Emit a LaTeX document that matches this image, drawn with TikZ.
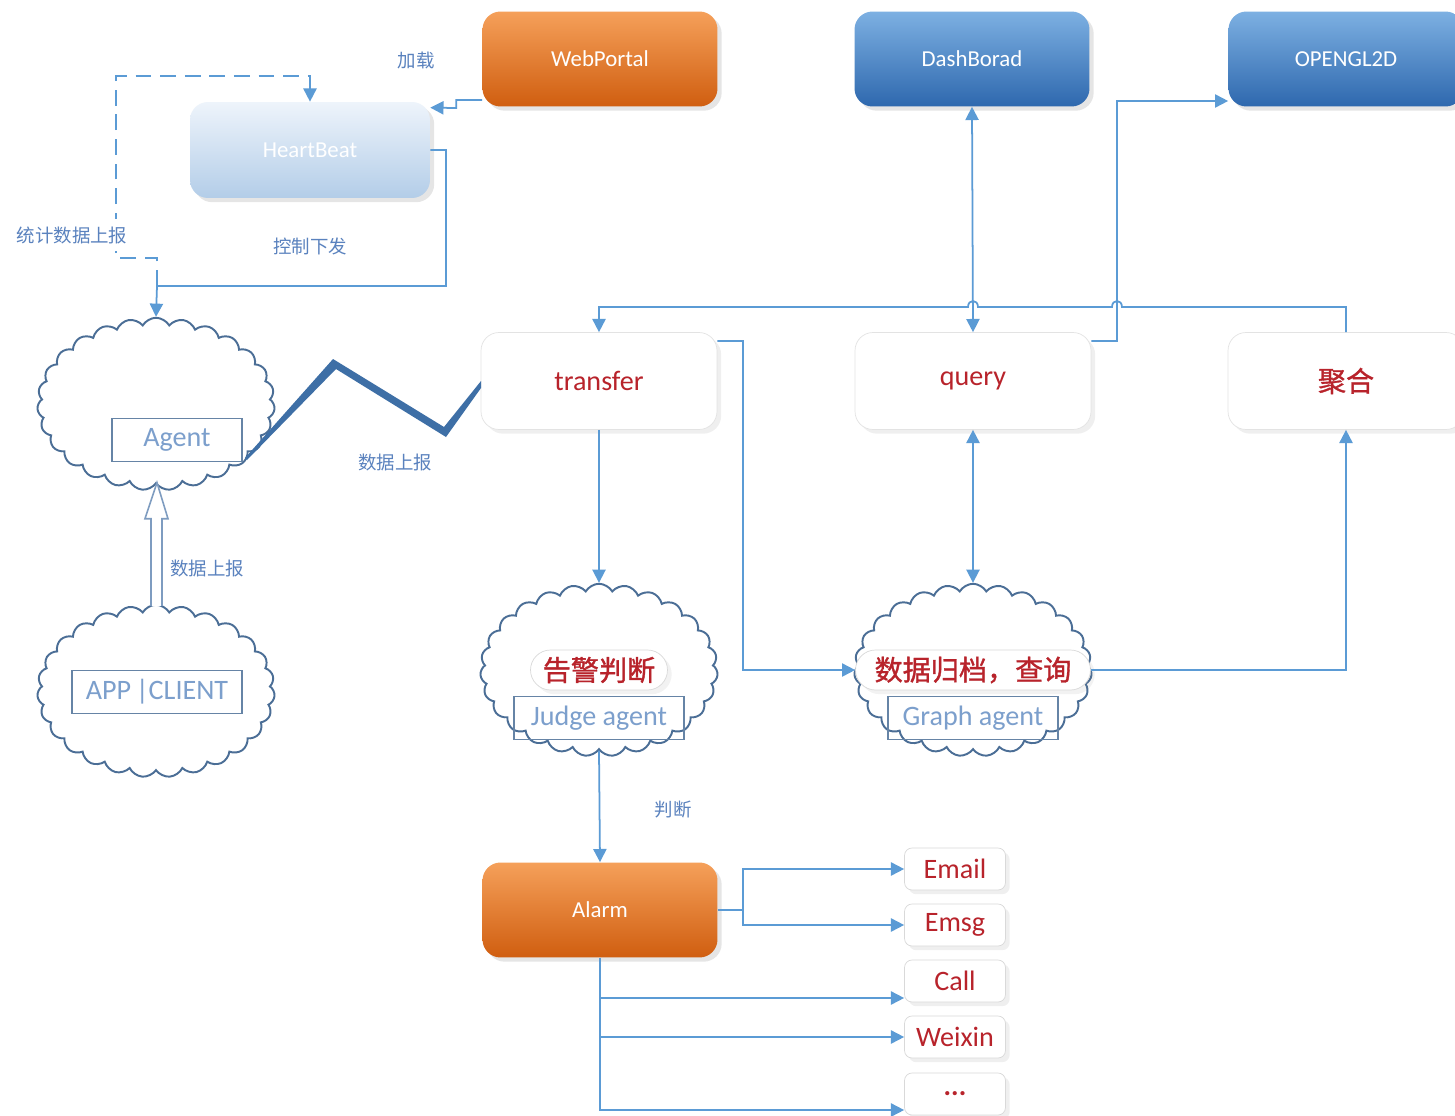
\documentclass[tikz,border=0pt]{standalone}
\usepackage{fontspec}
\setmainfont{Carlito}
\newfontfamily\cjk{Noto Sans CJK SC}
\newfontfamily\cjkb[FakeBold=1.2]{Noto Sans CJK SC}
\usetikzlibrary{shapes.symbols,shadows,arrows.meta,calc}
\definecolor{ln}{HTML}{5B9BD5}
\definecolor{lbl}{HTML}{5A82BE}
\definecolor{redt}{HTML}{B8232B}
\definecolor{cl}{HTML}{4B6E96}
\definecolor{or1}{HTML}{F5A05A}
\definecolor{or2}{HTML}{D05E10}
\definecolor{bl1}{HTML}{7DB0E2}
\definecolor{bl2}{HTML}{2E68AE}
\definecolor{hb1}{HTML}{EEF4FB}
\definecolor{hb2}{HTML}{B3CDE8}
\definecolor{agt}{HTML}{7C9FCC}
\definecolor{zig}{HTML}{3E6FA6}
\definecolor{hol}{HTML}{7E9CC0}
\tikzset{
  obox/.style={rounded corners=0.36cm, minimum width=4.7cm, minimum height=1.9cm,
    top color=or1, bottom color=or2, text=white, font=\fontsize{13}{15}\selectfont,
    drop shadow={opacity=0.2}},
  bbox/.style={obox, top color=bl1, bottom color=bl2},
  hbox/.style={obox, top color=hb1, bottom color=hb2, minimum width=4.8cm, minimum height=1.92cm},
  wbox/.style={rounded corners=0.36cm, draw=gray!22, fill=white, minimum width=4.72cm,
    minimum height=1.94cm, text=redt, font=\fontsize{16}{18}\selectfont,
    drop shadow={opacity=0.12}},
  sbox/.style={rounded corners=0.15cm, draw=gray!30, fill=white, minimum width=2.02cm,
    minimum height=0.84cm, text=redt, font=\fontsize{16}{18}\selectfont,
    drop shadow={opacity=0.12}},
  cloudy/.style={cloud, cloud puffs=27, cloud puff arc=120, draw=cl, line width=1.1pt,
    fill=white, minimum width=4.75cm, minimum height=3.45cm},
  inrect/.style={draw=cl!85, line width=0.8pt, minimum height=0.86cm, text=agt,
    font=\fontsize{16}{18}\selectfont},
  pill/.style={rounded corners=0.4cm, draw=gray!30, fill=white, minimum height=0.8cm,
    text=redt, font=\cjkb\fontsize{16}{18}\selectfont, drop shadow={opacity=0.1}},
  arr/.style={draw=ln, line width=1pt, -{Triangle[length=7.5pt,width=7.5pt]}},
  arrtwo/.style={draw=ln, line width=1pt, {Triangle[length=7.5pt,width=7.5pt]}-{Triangle[length=7.5pt,width=7.5pt]}},
  lab/.style={text=lbl, font=\cjk\fontsize{10.5}{12}\selectfont},
}
\begin{document}
\begin{tikzpicture}[x=0.02cm,y=-0.02cm]
\clip (0,0) rectangle (1455,1116);
\fill[white] (0,0) rectangle (1455,1116);

% top boxes
\node[obox] (web) at (600,59) {WebPortal};
\node[bbox] (dash) at (972,59) {DashBorad};
\node[bbox] (ogl) at (1346,59) {OPENGL2D};
\node[hbox] (hb) at (310,150) {HeartBeat};

% middle boxes
\node[wbox] (tr) at (599,381) {transfer};
\node[wbox] (qu) at (973,381) {query};
\node[wbox, font=\cjkb\fontsize{16}{18}\selectfont] (jh) at (1346,381) {聚合};

% clouds
\node[cloudy] (agc) at (156,404) {};
\node[inrect, minimum width=2.6cm] (agent) at (177,440) {Agent};
\node[cloudy] (app) at (156,691) {};
\node[inrect, minimum width=3.4cm] (appr) at (157,692) {APP\,|CLIENT};
\node[cloudy] (jc) at (599,670) {};
\node[inrect, minimum width=3.4cm] (jr) at (599,718) {Judge agent};
\node[pill, minimum width=2.74cm] (jp) at (599,670) {告警判断};
\node[cloudy] (gc) at (973,670) {};
\node[inrect, minimum width=3.4cm] (gr) at (973,718) {Graph agent};
\node[pill, minimum width=4.7cm] (gp) at (973,670) {数据归档，查询};

% alarm and outputs
\node[obox] (alarm) at (600,910) {Alarm};
\node[sbox] (email) at (955,869) {Email};
\node[sbox] (emsg) at (955,925) {Emsg};
\node[sbox] (call) at (955,981) {Call};
\node[sbox] (wx) at (955,1037) {Weixin};
\node[sbox] (dots) at (955,1094) {\textbf{...}};

% WebPortal -> HeartBeat
\draw[arr] ([yshift=-0.82cm]web.west) -- ++(-26,0) -- ++(0,8) -- ($(hb.north east)+(0,6)$);
% HeartBeat -> Agent (control)
\coordinate (jn) at (157,286);
\draw[arr] (hb.east) -- (446,150) -- (446,286) -- (jn) -- (agc.north);
% Agent -> HeartBeat (stats, dashed)
\draw[arr, dash pattern=on 9pt off 5pt] (jn) -- (157,258) -- (116,258) -- (116,76) -- (310,76) -- (hb.north);

% zigzag (data report agent -> transfer)
\fill[zig] (245,458) -- (333,359) -- (444,427) -- (481,381) -- (481,388) -- (446,437) -- (336,369) -- (247,460) -- cycle;

% hollow arrow APP -> Agent
\draw[hol, line width=0.9pt, fill=white]
  ($(app.north)+(-5,2)$) -- ($(agc.south)+(-5,34)$) -- ($(agc.south)+(-11,34)$) -- ($(agc.south)+(1,-2)$)
  -- ($(agc.south)+(12,34)$) -- ($(agc.south)+(6,34)$) -- ($(app.north)+(6,2)$);

% query -> OPENGL2D
\draw[arr] ([yshift=0.8cm]qu.east) -- (1117,341) -- (1117,101) -- ([yshift=-0.84cm]ogl.west);
% 聚合 -> transfer (with hops)
\draw[arr] (jh.north) -- (1346,307) -- (1122,307) .. controls (1122,299) and (1112,299) .. (1112,307)
  -- (978,307) .. controls (978,299) and (968,299) .. (968,307) -- (599,307) -- (tr.north);
% DashBorad <-> query
\draw[arrtwo] (dash.south) -- (qu.north);
% transfer -> judge
\draw[arr] (tr.south) -- (jc.north);
% transfer -> graph
\draw[arr] ([yshift=0.8cm]tr.east) -- (743,341) |- (gp.west);
% query <-> graph
\draw[arrtwo] (qu.south) -- (gc.north);
% graph -> 聚合
\draw[arr] (gp.east) -| (jh.south);
% judge -> alarm
\draw[arr] (jc.south) -- (alarm.north);
% alarm -> outputs
\coordinate (aj) at (743,910);
\draw[arr] (alarm.east) -- (aj) |- (email.west);
\draw[arr] (aj) |- (emsg.west);
\draw[arr] (alarm.south) |- ($(dots.west)+(0,16)$);
\draw[arr] (599,998) -- ($(call.west)+(0,17)$);
\draw[arr] (599,1037) -- (wx.west);

% labels
\node[lab] (l1) at (416,60) {加载};
\node[lab, fill=white, inner xsep=1pt, inner ysep=4pt] (l2) at (72,235) {统计数据上报};
\node[lab] (l3) at (310,246) {控制下发};
\node[lab] (l4) at (395,463) {数据上报};
\node[lab] (l5) at (207,569) {数据上报};
\node[lab] (l6) at (673,810) {判断};
\end{tikzpicture}
\end{document}
